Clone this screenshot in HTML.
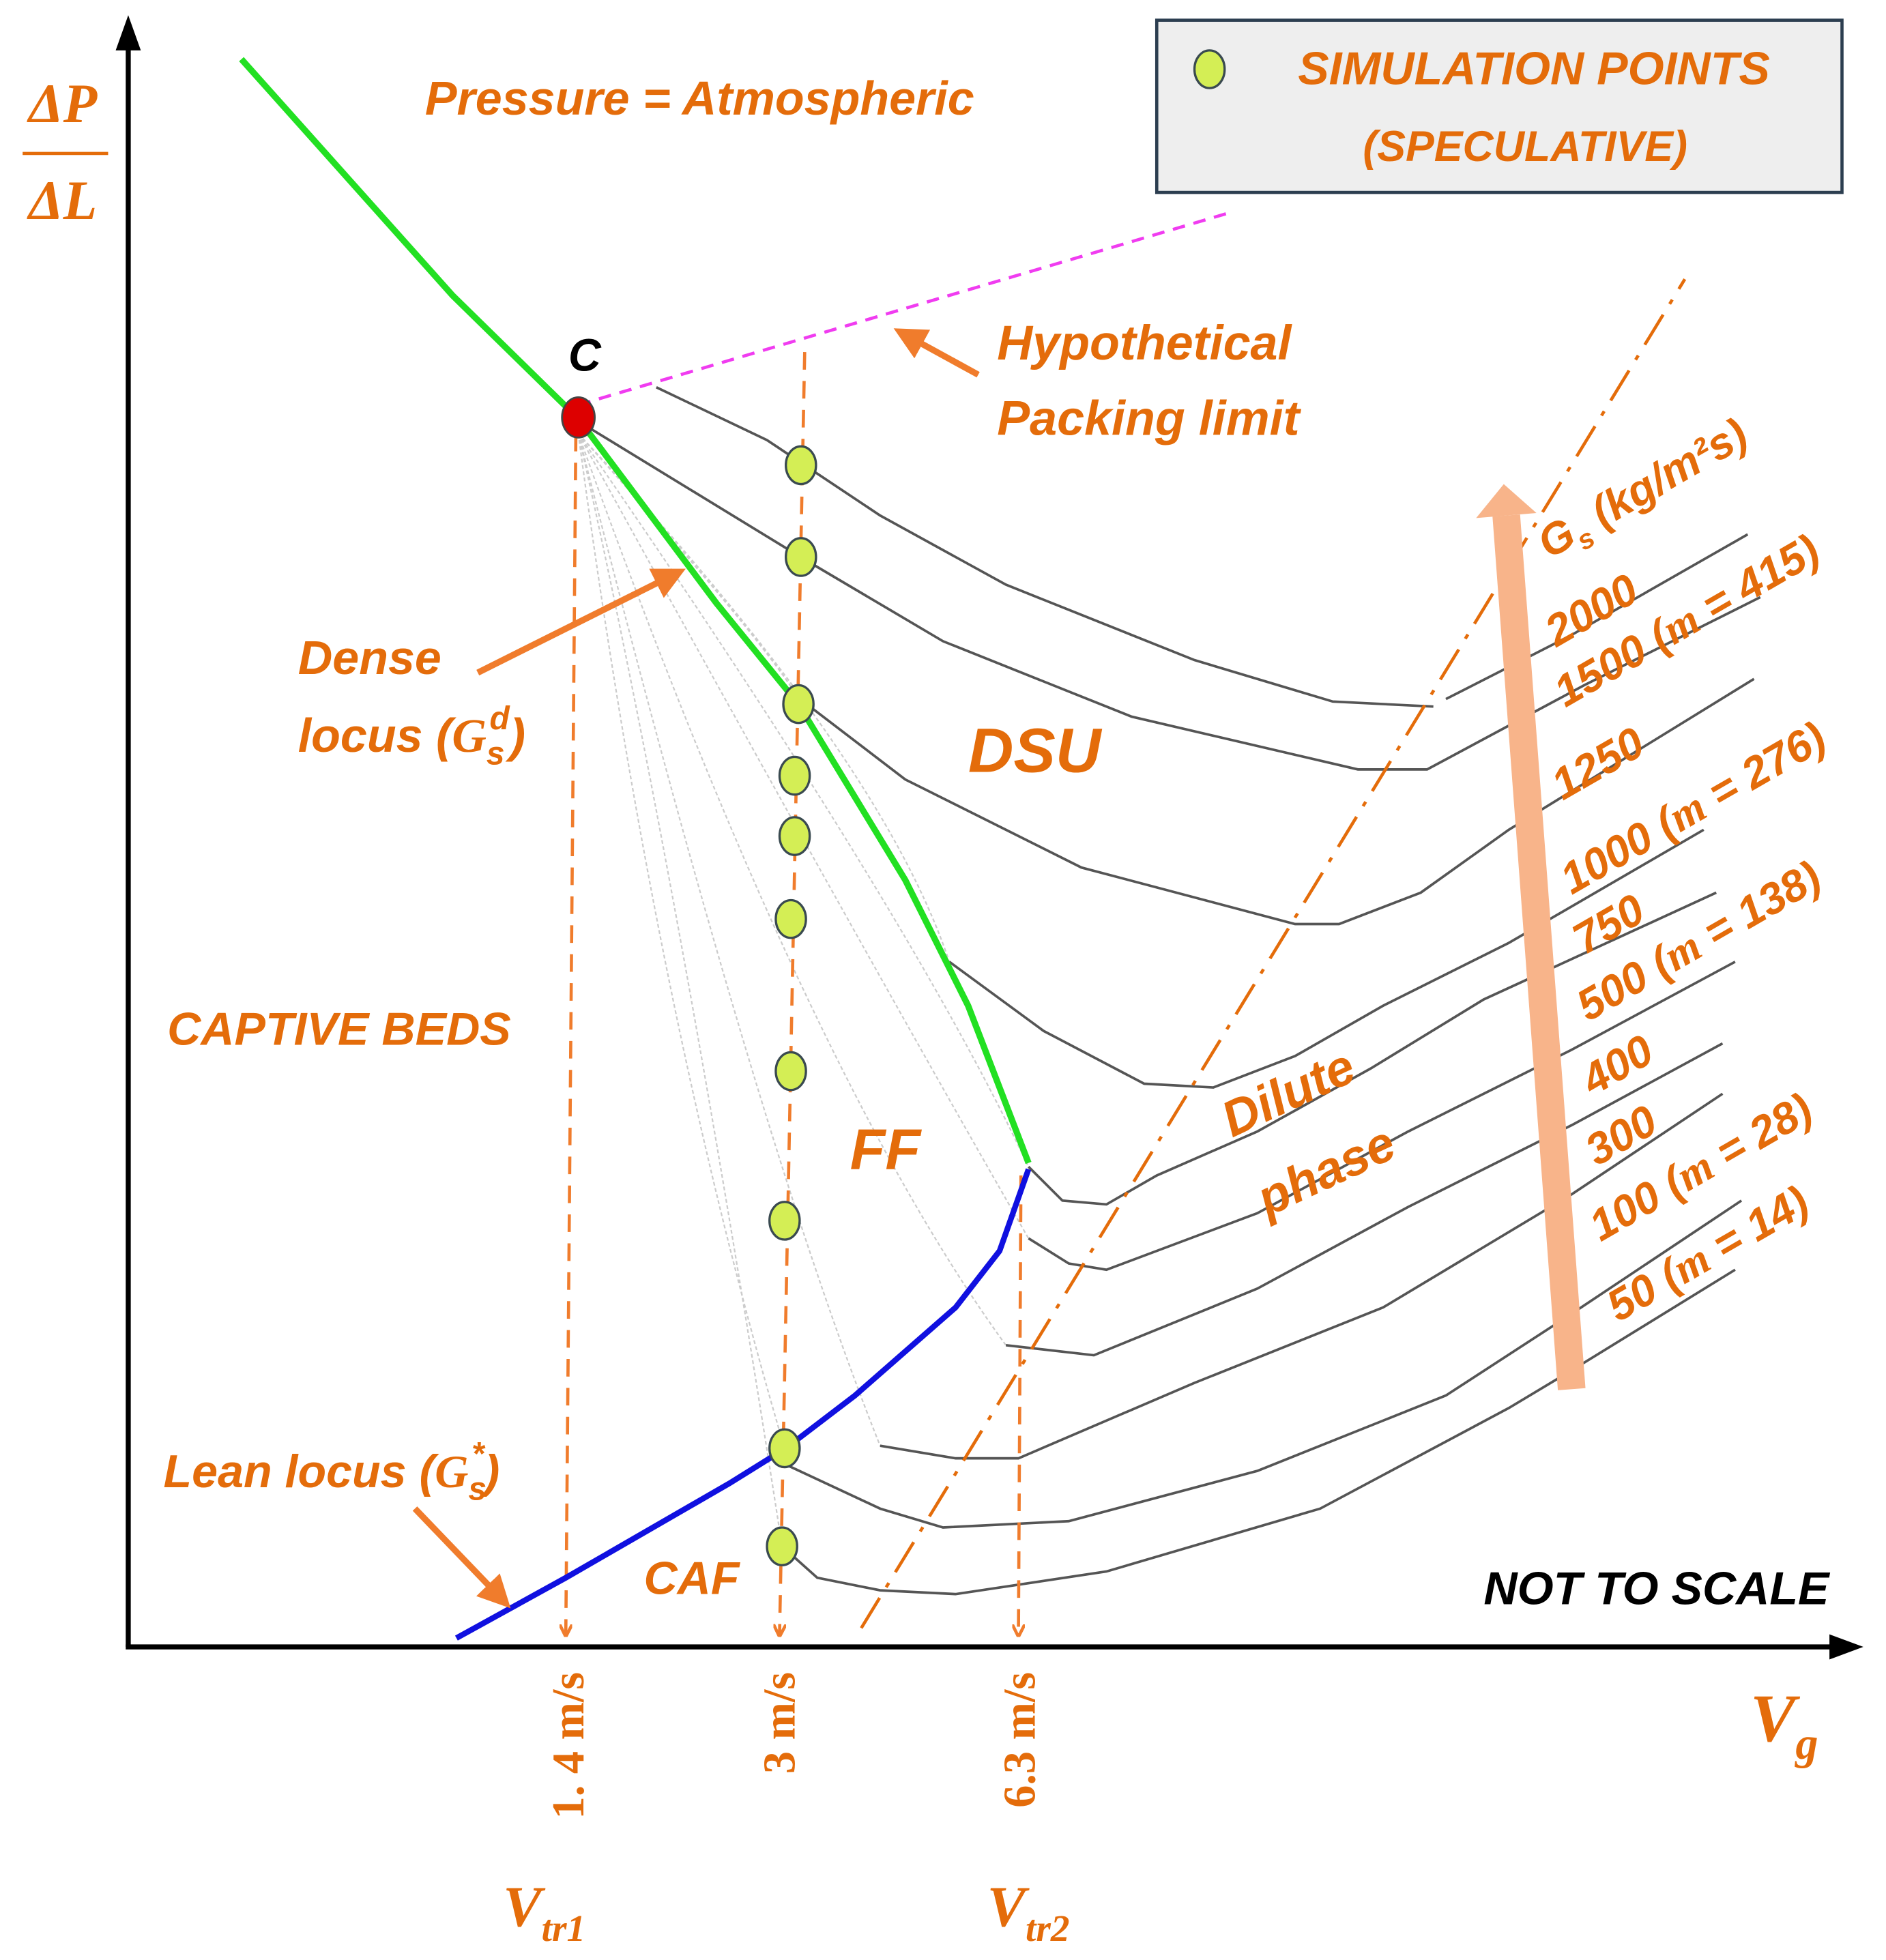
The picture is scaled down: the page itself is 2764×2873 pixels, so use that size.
<!DOCTYPE html>
<html><head><meta charset="utf-8"><style>
html,body{margin:0;padding:0;background:#fff}
svg{display:block}
.o{fill:#e46c0a;font-family:"Liberation Sans",sans-serif;font-weight:bold;font-style:italic}
.s{font-family:"Liberation Serif",serif}
</style></head><body>
<svg width="2764" height="2873" viewBox="0 0 1500 1559" xmlns="http://www.w3.org/2000/svg">
<defs>
<marker id="ao" markerWidth="10" markerHeight="10" refX="8" refY="5" orient="auto" markerUnits="userSpaceOnUse"><path d="M0,0 L10,5 L0,10" fill="none" stroke="#f07c2c" stroke-width="2.5"/></marker>
<marker id="af" markerWidth="26" markerHeight="26" refX="20" refY="13" orient="auto" markerUnits="userSpaceOnUse"><path d="M0,0 L26,13 L0,26 Z" fill="#f07c2c"/></marker>
</defs>
<rect width="1500" height="1559" fill="#fff"/>
<line x1="102" y1="1310" x2="102" y2="30" stroke="#000" stroke-width="4"/>
<path d="M92,40 L102,12 L112,40 Z" fill="#000"/>
<line x1="100" y1="1310" x2="1465" y2="1310" stroke="#000" stroke-width="4"/>
<path d="M1455,1300 L1482,1310 L1455,1320 Z" fill="#000"/>
<text x="50" y="97" class="o s" font-size="44" text-anchor="middle">ΔP</text>
<line x1="18" y1="122" x2="86" y2="122" stroke="#e46c0a" stroke-width="2.5"/>
<text x="50" y="174" class="o s" font-size="44" text-anchor="middle">ΔL</text>
<g stroke="#cccccc" stroke-width="1.2" stroke-dasharray="3,2" fill="none">
<path d="M460,345 Q540,700 622,1230"/>
<path d="M460,345 Q520,800 624,1152"/>
<path d="M460,345 Q600,900 700,1150"/>
<path d="M460,345 Q640,850 800,1070"/>
<path d="M460,345 Q700,780 818,985"/>
<path d="M460,345 Q720,720 818,928"/>
<path d="M460,345 Q700,600 755,765"/>
<path d="M460,345 Q600,500 635,555"/>
</g>
<g stroke="#555" stroke-width="2" fill="none">
<polyline points="522,308 610,350 700,410 800,465 950,525 1060,558 1140,562"/>
<polyline points="1150,556 1250,505 1390,425"/>
<polyline points="460,335 550,390 640,445 750,510 900,570 1080,612 1135,612 1260,545 1400,475"/>
<polyline points="635,555 720,620 860,690 1030,735 1065,735 1130,710 1200,660 1395,540"/>
<polyline points="755,765 830,820 910,862 965,865 1030,840 1100,800 1200,750 1355,660"/>
<polyline points="818,928 845,955 880,958 920,935 1000,900 1090,850 1180,795 1365,710"/>
<polyline points="818,985 850,1005 880,1010 1000,965 1120,900 1250,835 1380,765"/>
<polyline points="800,1070 870,1078 1000,1025 1120,960 1250,895 1370,830"/>
<polyline points="700,1150 760,1160 810,1160 950,1100 1100,1040 1250,950 1370,870"/>
<polyline points="625,1165 700,1200 750,1215 850,1210 1000,1170 1150,1110 1250,1045 1385,955"/>
<polyline points="622,1230 650,1255 700,1265 760,1268 880,1250 1050,1200 1200,1120 1250,1090 1380,1010"/>
</g>
<g stroke="#f07c2c" stroke-width="2.5" stroke-dasharray="14,9" fill="none">
<line x1="458" y1="345" x2="450" y2="1300" marker-end="url(#ao)"/>
<line x1="640" y1="280" x2="620" y2="1300" marker-end="url(#ao)"/>
<line x1="812" y1="935" x2="810" y2="1300" marker-end="url(#ao)"/>
</g>
<line x1="685" y1="1295" x2="1340" y2="222" stroke="#e46c0a" stroke-width="2.5" stroke-dasharray="28,10,4,10"/>
<line x1="460" y1="322" x2="975" y2="170" stroke="#f03cf0" stroke-width="2.5" stroke-dasharray="10,7"/>
<polyline points="192,47 360,235 460,333 570,480 635,560 720,700 770,800 818,925" fill="none" stroke="#22e022" stroke-width="5"/>
<polyline points="363,1303 450,1255 580,1180 625,1152 680,1110 760,1040 795,995 818,930" fill="none" stroke="#1010e0" stroke-width="4.5"/>
<ellipse cx="460" cy="332" rx="13" ry="16" fill="#d00" stroke="#444" stroke-width="1.5"/>
<text x="465" y="295" font-family="Liberation Sans,sans-serif" font-weight="bold" font-style="italic" font-size="36" text-anchor="middle">C</text>
<g fill="#d4ee55" stroke="#3a4a50" stroke-width="1.8">
<ellipse cx="637" cy="370" rx="12" ry="15"/><ellipse cx="637" cy="443" rx="12" ry="15"/>
<ellipse cx="635" cy="560" rx="12" ry="15"/><ellipse cx="632" cy="617" rx="12" ry="15"/>
<ellipse cx="632" cy="665" rx="12" ry="15"/><ellipse cx="629" cy="731" rx="12" ry="15"/>
<ellipse cx="629" cy="852" rx="12" ry="15"/><ellipse cx="624" cy="971" rx="12" ry="15"/>
<ellipse cx="624" cy="1152" rx="12" ry="15"/><ellipse cx="622" cy="1230" rx="12" ry="15"/>
</g>
<rect x="920" y="16" width="545" height="137" fill="#eeeeee" stroke="#2c3e50" stroke-width="2.5"/>
<ellipse cx="962" cy="55" rx="12" ry="15" fill="#d4ee55" stroke="#3a4a50" stroke-width="1.8"/>
<text x="1220" y="67" class="o" font-size="37" text-anchor="middle">SIMULATION POINTS</text>
<text x="1213" y="128" class="o" font-size="34" text-anchor="middle">(SPECULATIVE)</text>
<line x1="1250" y1="1105" x2="1198" y2="410" stroke="#f8b48a" stroke-width="22"/>
<path d="M1174,412 L1196,385 L1222,408 Z" fill="#f8b48a"/>
<line x1="778" y1="298" x2="716" y2="264" stroke="#f07c2c" stroke-width="5" marker-end="url(#af)"/>
<line x1="380" y1="535" x2="540" y2="455" stroke="#f07c2c" stroke-width="5" marker-end="url(#af)"/>
<line x1="330" y1="1200" x2="402" y2="1275" stroke="#f07c2c" stroke-width="5" marker-end="url(#af)"/>
<text x="338" y="91" class="o" font-size="38">Pressure = Atmospheric</text>
<text x="793" y="286" class="o" font-size="39">Hypothetical</text>
<text x="793" y="346" class="o" font-size="39">Packing limit</text>
<text x="237" y="536" class="o" font-size="38">Dense</text>
<text x="237" y="598" class="o" font-size="38">locus (<tspan class="s">G</tspan><tspan font-size="26" dy="10">s</tspan><tspan font-size="26" dx="-12" dy="-28">d</tspan><tspan dy="18">)</tspan></text>
<text x="770" y="614" class="o" font-size="50">DSU</text>
<text x="133" y="831" class="o" font-size="37">CAPTIVE BEDS</text>
<text x="676" y="930" class="o" font-size="46">FF</text>
<text x="980" y="905" class="o" font-size="40" transform="rotate(-25 980 905)">Dilute</text>
<text x="1008" y="968" class="o" font-size="40" transform="rotate(-25 1008 968)">phase</text>
<text x="130" y="1183" class="o" font-size="37">Lean locus (<tspan class="s">G</tspan><tspan font-size="26" dy="10">s</tspan><tspan font-size="26" dx="-12" dy="-28">*</tspan><tspan dy="18">)</tspan></text>
<text x="512" y="1268" class="o" font-size="37">CAF</text>
<text x="1180" y="1276" font-family="Liberation Sans,sans-serif" font-weight="bold" font-style="italic" font-size="37">NOT TO SCALE</text>
<text x="1392" y="1385" class="o s" font-size="54">V<tspan font-size="36" dy="14">g</tspan></text>
<text x="0" y="0" class="o s" font-size="36" style="font-style:normal" text-anchor="end" transform="translate(464,1330) rotate(-90)">1. 4 m/s</text>
<text x="0" y="0" class="o s" font-size="36" style="font-style:normal" text-anchor="end" transform="translate(632,1330) rotate(-90)">3 m/s</text>
<text x="0" y="0" class="o s" font-size="36" style="font-style:normal" text-anchor="end" transform="translate(823,1330) rotate(-90)">6.3 m/s</text>
<text x="400" y="1532" class="o s" font-size="46">V<tspan font-size="30" dy="12">tr1</tspan></text>
<text x="785" y="1532" class="o s" font-size="46">V<tspan font-size="30" dy="12">tr2</tspan></text>
<g class="o" font-size="35">
<text transform="translate(1232,445) rotate(-30)">G<tspan font-size="22" dy="8">s</tspan><tspan dy="-8"> (kg/m²s)</tspan></text>
<text transform="translate(1238,515) rotate(-30)">2000</text>
<text transform="translate(1245,563) rotate(-30)">1500  (<tspan class="s">m</tspan> = 415)</text>
<text transform="translate(1243,637) rotate(-30)">1250</text>
<text transform="translate(1250,712) rotate(-30)">1000  (<tspan class="s">m</tspan> = 276)</text>
<text transform="translate(1260,760) rotate(-30)">750</text>
<text transform="translate(1263,813) rotate(-30)">500  (<tspan class="s">m</tspan> = 138)</text>
<text transform="translate(1267,872) rotate(-30)">400</text>
<text transform="translate(1270,928) rotate(-30)">300</text>
<text transform="translate(1273,988) rotate(-30)">100  (<tspan class="s">m</tspan> = 28)</text>
<text transform="translate(1287,1052) rotate(-30)">50  (<tspan class="s">m</tspan> = 14)</text>
</g>
</svg>
</body></html>
